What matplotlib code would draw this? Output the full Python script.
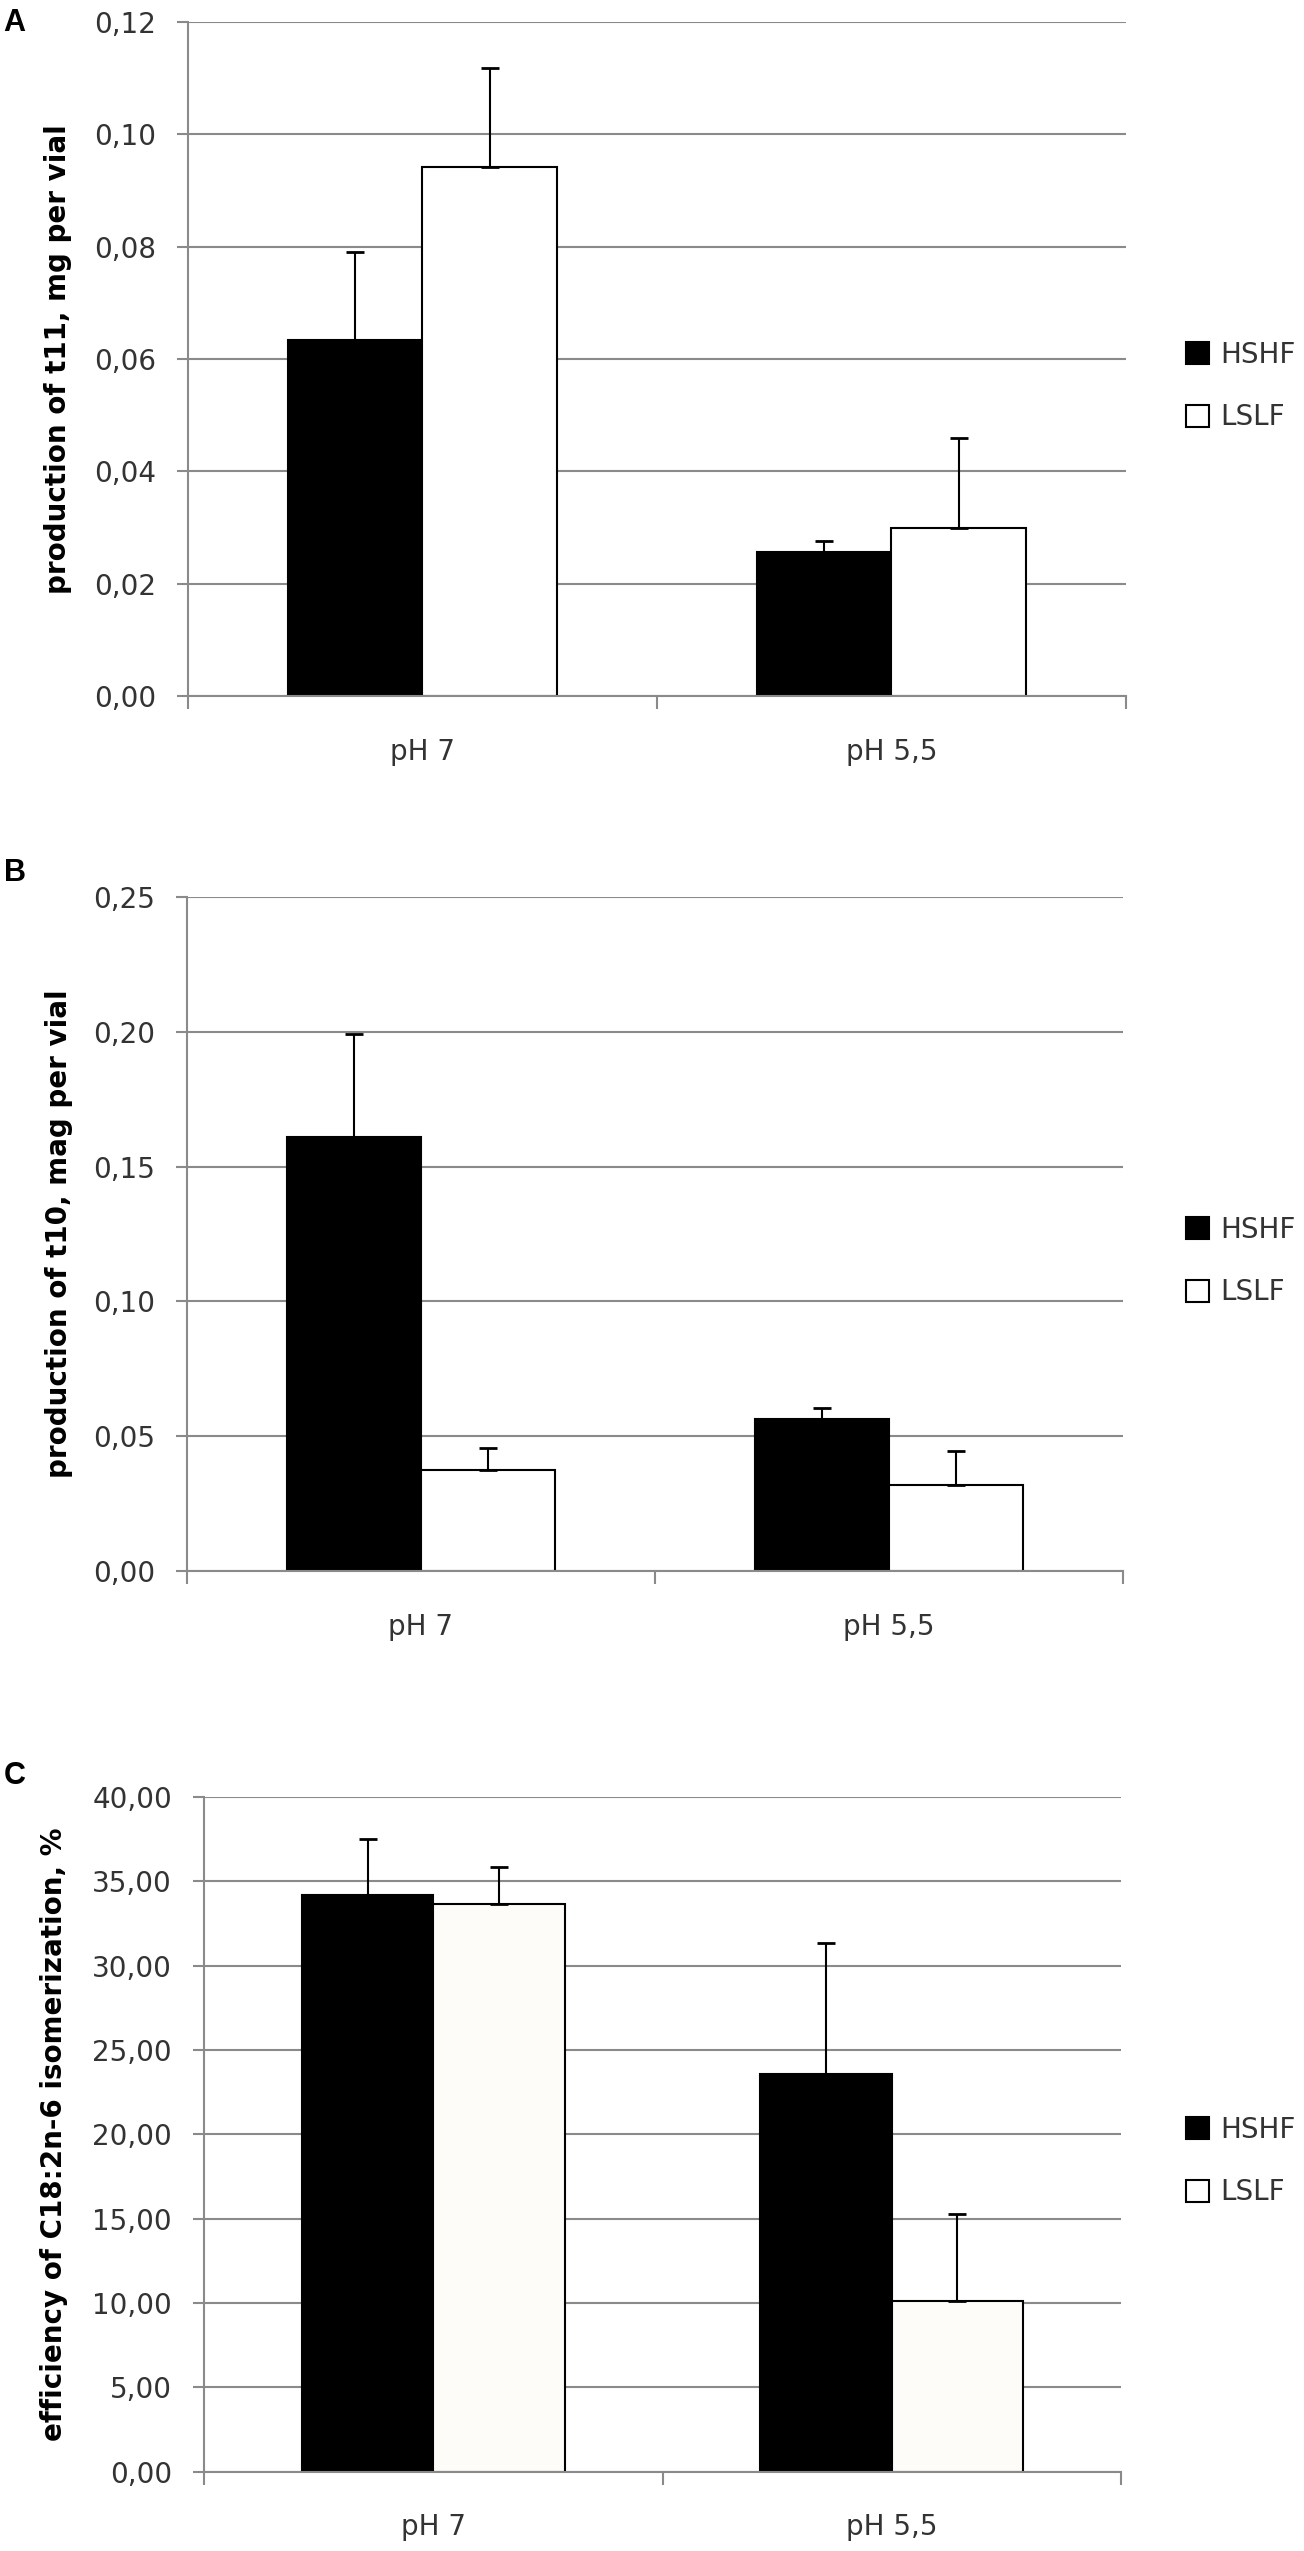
import numpy as np
import matplotlib
matplotlib.use('Agg')
import matplotlib.pyplot as plt
from matplotlib.patches import Patch
from matplotlib.ticker import FuncFormatter, FixedLocator

# categories and series
groups = ['pH 7', 'pH 5,5']
series = ['HSHF', 'LSLF']

# panel A: production of t11
a_hshf = [0.0633, 0.0256]
a_hshf_err = [0.0158, 0.0020]
a_lslf = [0.0941, 0.0300]
a_lslf_err = [0.0177, 0.0160]

# panel B: production of t10
b_hshf = [0.1609, 0.0562]
b_hshf_err = [0.0384, 0.0041]
b_lslf = [0.0375, 0.0319]
b_lslf_err = [0.0080, 0.0126]

# panel C: isomerization efficiency
c_hshf = [34.19, 23.56]
c_hshf_err = [3.31, 7.79]
c_lslf = [33.68, 10.13]
c_lslf_err = [2.16, 5.17]

W, H = 1304, 2551
fig = plt.figure(figsize=(W / 100, H / 100), dpi=100)
fig.patch.set_facecolor('white')

GRID = '#8a8a8a'
TICK_TXT = '#333333'


def box(left, right, top, bottom):
    return [left / W, 1 - bottom / H, (right - left) / W, (bottom - top) / H]


panels = [
    dict(letter='A', rect=box(188, 1126, 22, 696), letter_xy=(14, 23),
         hshf=a_hshf, hshf_err=a_hshf_err, lslf=a_lslf, lslf_err=a_lslf_err,
         ymax=0.12, step=0.02, fmt='{:.2f}', lslf_color='white',
         ylabel='production of t11, mg per vial', label_x=58, legend_y=386),
    dict(letter='B', rect=box(187, 1123, 897, 1571), letter_xy=(15, 873),
         hshf=b_hshf, hshf_err=b_hshf_err, lslf=b_lslf, lslf_err=b_lslf_err,
         ymax=0.25, step=0.05, fmt='{:.2f}', lslf_color='white',
         ylabel='production of t10, mag per vial', label_x=59, legend_y=1261),
    dict(letter='C', rect=box(204, 1121, 1797, 2471.5), letter_xy=(15, 1776),
         hshf=c_hshf, hshf_err=c_hshf_err, lslf=c_lslf, lslf_err=c_lslf_err,
         ymax=40, step=5, fmt='{:.2f}', lslf_color='#fdfcf9',
         ylabel='efficiency of C18:2n-6 isomerization, %', label_x=54, legend_y=2161),
]

x = np.arange(len(groups))
bw = 0.287
off = 0.143

for p in panels:
    ax = fig.add_axes(p['rect'])
    ax.set_axisbelow(True)
    zeros = np.zeros(len(groups))

    ax.bar(x - off, p['hshf'], bw, color='black', edgecolor='black', lw=1.5, zorder=2)
    ax.bar(x + off, p['lslf'], bw, color=p['lslf_color'], edgecolor='black', lw=1.5, zorder=2)
    ax.errorbar(x - off, p['hshf'], yerr=[zeros, p['hshf_err']], fmt='none',
                ecolor='black', elinewidth=1.5, capsize=6.5, capthick=2, zorder=3)
    ax.errorbar(x + off, p['lslf'], yerr=[zeros, p['lslf_err']], fmt='none',
                ecolor='black', elinewidth=1.5, capsize=6.5, capthick=2, zorder=3)

    ax.set_xlim(-0.5, len(groups) - 0.5)
    ax.set_ylim(0, p['ymax'])
    ax.set_yticks(np.arange(0, p['ymax'] + p['step'] / 2, p['step']))
    fmt = p['fmt']
    ax.yaxis.set_major_formatter(FuncFormatter(lambda v, _, f=fmt: f.format(v).replace('.', ',')))
    ax.yaxis.grid(True, color=GRID, lw=1.5)

    # category boundaries get tick marks, names sit in between
    ax.xaxis.set_major_locator(FixedLocator([-0.5, 0.5, 1.5]))
    ax.xaxis.set_major_formatter(FuncFormatter(lambda v, _: ''))
    ax.set_xticks(x, minor=True)
    ax.set_xticklabels(groups, minor=True)
    ax.tick_params(axis='x', which='major', length=9, width=1.5, color=GRID, direction='out')
    ax.tick_params(axis='x', which='minor', length=0, pad=30, labelsize=20, labelcolor=TICK_TXT)
    ax.tick_params(axis='y', length=8, width=1.5, color=GRID, pad=15,
                   labelsize=20, labelcolor=TICK_TXT)

    for s in ['top', 'right']:
        ax.spines[s].set_visible(False)
    for s in ['left', 'bottom']:
        ax.spines[s].set_color(GRID)
        ax.spines[s].set_linewidth(1.5)

    left_px = p['rect'][0] * W
    width_px = p['rect'][2] * W
    ax.text((p['label_x'] - left_px) / width_px, 0.5, p['ylabel'], transform=ax.transAxes,
            rotation=90, ha='center', va='center', fontsize=20, fontweight='bold', color='black')

    lx, ly = p['letter_xy']
    fig.text(lx / W, 1 - ly / H, p['letter'], ha='center', va='center',
             fontsize=22, fontweight='bold', family='Liberation Sans')

    handles = [Patch(facecolor='black', edgecolor='black', lw=1.5),
               Patch(facecolor='white', edgecolor='black', lw=1.5)]
    ax.legend(handles, series, loc='center left', frameon=False,
              bbox_to_anchor=(1186 / W, 1 - p['legend_y'] / H), bbox_transform=fig.transFigure,
              fontsize=20, handlelength=0.83, handleheight=0.83, handletextpad=0.4,
              labelspacing=1.25, borderpad=0, borderaxespad=0, labelcolor=TICK_TXT)

fig.savefig('out.png', dpi=100, facecolor='white')
